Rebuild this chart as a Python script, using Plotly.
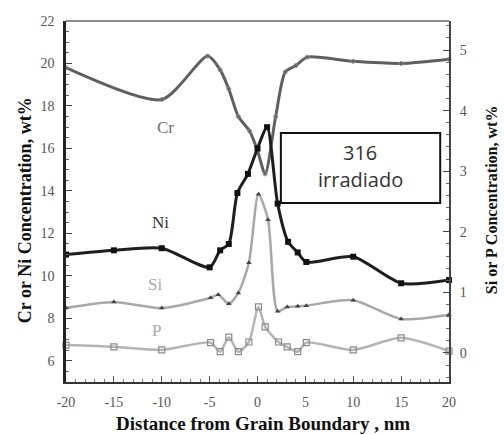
import plotly.graph_objects as go

# ---- data ----
cr_x = [-20, -10, -5.2, -3.9, -3.0, -2.0, -0.8, 0, 0.8, 1.9, 2.9, 4.0, 5.2, 10, 15, 20]
cr_y = [19.8, 18.3, 20.35, 19.7, 18.8, 17.5, 16.8, 15.9, 14.8, 17.5, 19.6, 19.9, 20.3, 20.1, 20.0, 20.2]

ni_x = [-20, -15, -10, -5, -3.9, -3.0, -2.1, -1.0, 0, 1.0, 2.1, 3.2, 4.2, 5.1, 10, 15, 20]
ni_y = [11.0, 11.2, 11.3, 10.4, 11.2, 11.5, 13.9, 14.8, 16.0, 17.0, 13.4, 11.6, 11.1, 10.65, 10.9, 9.65, 9.8]

si_x = [-20, -15, -10, -4.9, -4.1, -3.0, -2.0, -0.9, 0.1, 1.1, 2.1, 3.1, 4.2, 5.1, 10, 15, 20]
si_y = [0.74, 0.84, 0.74, 0.91, 0.96, 0.81, 0.99, 1.49, 2.62, 2.2, 0.69, 0.76, 0.77, 0.78, 0.87, 0.56, 0.63]

p_x = [-20, -15, -10, -4.9, -3.9, -3.0, -2.0, -0.9, 0.1, 0.8, 2.2, 3.1, 4.2, 5.1, 10, 15, 20]
p_y = [0.13, 0.1, 0.05, 0.17, 0.02, 0.26, 0.02, 0.18, 0.76, 0.43, 0.18, 0.1, 0.02, 0.17, 0.05, 0.25, 0.03]

x_ticks = [-20, -15, -10, -5, 0, 5, 10, 15, 20]
left_ticks = [6, 8, 10, 12, 14, 16, 18, 20, 22]
right_ticks = [0, 1, 2, 3, 4, 5]

series_labels = ["Cr", "Ni", "Si", "P"]
box_lines = ["316", "irradiado"]
x_title = "Distance from Grain Boundary , nm"
yl_title = "Cr or Ni Concentration, wt%"
yr_title = "Si or P Concentration, wt%"

SERIF = "Liberation Serif, Times New Roman, serif"

fig = go.Figure()
fig.add_trace(go.Scatter(x=p_x, y=p_y, yaxis="y2", mode="lines+markers",
                         line=dict(color="#b4b4b4", width=2.5, shape="spline", smoothing=0.7),
                         marker=dict(symbol="square-open", size=6, color="#8a8a8a", line=dict(width=1.2)),
                         cliponaxis=False))
fig.add_trace(go.Scatter(x=si_x, y=si_y, yaxis="y2", mode="lines+markers",
                         line=dict(color="#a8a8a8", width=2.5, shape="spline", smoothing=0.7),
                         marker=dict(symbol="triangle-up", size=5, color="#444"),
                         cliponaxis=False))
fig.add_trace(go.Scatter(x=cr_x, y=cr_y, mode="lines+markers",
                         line=dict(color="#5f5f5f", width=3, shape="spline", smoothing=0.7),
                         marker=dict(symbol="circle-open", size=4, color="#888", line=dict(width=1)),
                         cliponaxis=False))
fig.add_trace(go.Scatter(x=ni_x, y=ni_y, mode="lines+markers",
                         line=dict(color="#1e1e1e", width=3, shape="spline", smoothing=0.7),
                         marker=dict(symbol="square", size=6, color="#111"),
                         cliponaxis=False))

axis_font = dict(family=SERIF, size=14, color="#555")

fig.update_layout(
    width=504, height=435,
    margin=dict(l=66, r=55, t=21, b=53),
    paper_bgcolor="white", plot_bgcolor="white",
    showlegend=False,
    xaxis=dict(range=[-20, 20], tickvals=x_ticks, ticktext=[str(v) for v in x_ticks],
               showgrid=False, zeroline=False, showline=True, linecolor="#333", linewidth=2,
               ticks="inside", ticklen=6, tickcolor="#555",
               minor=dict(dtick=1, ticks="inside", ticklen=3, tickcolor="#777"),
               tickfont=axis_font, ticklabelstandoff=6),
    yaxis=dict(range=[5, 22], tickvals=left_ticks, showgrid=False, zeroline=False,
               showline=True, linecolor="#222", linewidth=2.5,
               ticks="inside", ticklen=6, tickcolor="#444",
               minor=dict(dtick=0.5, ticks="inside", ticklen=3, tickcolor="#666"),
               tickfont=axis_font, ticklabelstandoff=6),
    yaxis2=dict(range=[-0.48, 5.48], overlaying="y", side="right", tickvals=right_ticks,
                showgrid=False, zeroline=False, showline=True, linecolor="#444", linewidth=2,
                ticks="inside", ticklen=6, tickcolor="#444",
                minor=dict(dtick=0.2, ticks="inside", ticklen=3, tickcolor="#666"),
                tickfont=axis_font, ticklabelstandoff=6),
)

# top frame line (lighter, as in the scan)
fig.add_shape(type="line", xref="paper", yref="paper", x0=0, x1=1, y0=1, y1=1,
              line=dict(color="#8c8c8c", width=2))

def note(text, x, y, font, angle=0):
    fig.add_annotation(text=text, xref="paper", yref="paper", x=x, y=y, showarrow=False,
                       xanchor="center", yanchor="middle", textangle=angle, font=font)

# box with text
fig.add_shape(type="rect", xref="paper", yref="paper", x0=0.561, x1=0.977, y0=0.496, y1=0.690,
              line=dict(color="#111", width=2), fillcolor="white", layer="above")
note(box_lines[0], 0.768, 0.637, dict(family="Open Sans, sans-serif", size=20, color="#333"))
note(box_lines[1], 0.768, 0.560, dict(family="Open Sans, sans-serif", size=20, color="#333"))

# series labels
lab_pos = [(0.261, 0.706, "#707070"), (0.248, 0.443, "#333"), (0.232, 0.269, "#a8a8a8"), (0.235, 0.144, "#a8a8a8")]
for lab, (lx, ly, col) in zip(series_labels, lab_pos):
    note(lab, lx, ly, dict(family=SERIF, size=17, color=col))

# axis titles
note("<b>" + x_title + "</b>", 0.514, -0.114, dict(family=SERIF, size=19, color="#111"))
note("<b>" + yl_title + "</b>", -0.107, 0.476, dict(family=SERIF, size=18, color="#111"), -90)
note("<b>" + yr_title + "</b>", 1.110, 0.504, dict(family=SERIF, size=16, color="#111"), -90)

fig.write_html("out.html")
